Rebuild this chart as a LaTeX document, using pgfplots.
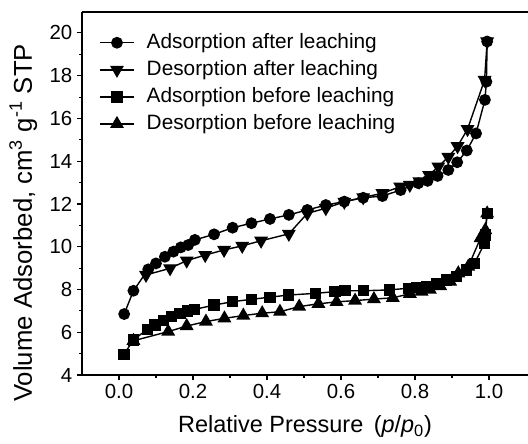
\documentclass[border=0pt]{standalone}
\usepackage{fontspec}
\setmainfont{Liberation Sans}
\usepackage{pgfplots}
\pgfplotsset{compat=1.18}

% N2 isotherms: adsorption / desorption, after and before leaching
\pgfplotstableread{
x y
0.014 6.85
0.039 7.94
0.079 8.94
0.100 9.22
0.124 9.53
0.147 9.77
0.167 9.97
0.187 10.08
0.205 10.32
0.257 10.58
0.307 10.89
0.358 11.10
0.408 11.30
0.459 11.49
0.509 11.72
0.559 11.95
0.609 12.11
0.660 12.29
0.712 12.37
0.761 12.65
0.809 12.97
0.834 13.08
0.861 13.31
0.890 13.59
0.914 13.95
0.940 14.50
0.965 15.30
0.989 16.87
0.993 17.72
0.995 19.60
}\adsafter

\pgfplotstableread{
x y
0.073 8.68
0.138 8.99
0.183 9.35
0.233 9.61
0.284 9.85
0.333 10.04
0.384 10.28
0.459 10.60
0.509 11.56
0.559 11.80
0.609 12.10
0.660 12.31
0.712 12.50
0.760 12.81
0.786 12.89
0.812 13.05
0.838 13.35
0.863 13.75
0.890 14.20
0.915 14.70
0.942 15.50
0.988 17.80
0.995 19.60
}\desafter

\pgfplotstableread{
x y
0.0135 4.97
0.039 5.64
0.077 6.14
0.097 6.34
0.120 6.54
0.142 6.73
0.165 6.89
0.185 6.99
0.205 7.07
0.257 7.27
0.307 7.43
0.358 7.54
0.408 7.64
0.458 7.74
0.532 7.82
0.584 7.90
0.611 7.94
0.660 7.94
0.732 7.98
0.782 8.06
0.805 8.08
0.832 8.15
0.859 8.29
0.886 8.44
0.913 8.60
0.940 8.91
0.960 9.20
0.988 10.16
0.990 10.55
0.995 11.56
}\adsbefore

\pgfplotstableread{
x y
0.039 5.60
0.133 6.03
0.183 6.29
0.235 6.50
0.285 6.65
0.336 6.78
0.387 6.89
0.435 6.96
0.487 7.20
0.539 7.33
0.588 7.42
0.638 7.48
0.689 7.55
0.740 7.61
0.786 7.80
0.818 7.90
0.840 8.00
0.868 8.16
0.895 8.37
0.917 8.76
0.944 9.07
0.977 10.40
0.990 10.78
0.995 11.56
}\desbefore

\begin{document}
\begin{tikzpicture}
\begin{axis}[
  scale only axis,
  width=334.5pt, height=272.25pt,
  xmin=-0.1, xmax=1.1054, ymin=4, ymax=20.98,
  axis x line=box, axis y line=left,
  x axis line style={-}, y axis line style={-},
  axis line style={line width=0.9pt, black},
  xtick pos=left, ytick pos=left,
  tick align=outside,
  major tick length=3.75pt, minor tick length=2.2pt,
  tick style={line width=0.8pt, black},
  xtick={0,0.2,0.4,0.6,0.8,1.0},
  ytick={4,6,8,10,12,14,16,18,20},
  minor x tick num=1, minor y tick num=1,
  xticklabel style={/pgf/number format/.cd, fixed, fixed zerofill, precision=1},
  /pgf/number format/assume math mode=true,
  tick label style={font=\fontsize{15.3}{18}\selectfont},
  xlabel={Relative Pressure \,(\textit{p}/\textit{p}\textsubscript{0})},
  ylabel={Volume Adsorbed, cm\textsuperscript{3} g\textsuperscript{-1} STP},
  xlabel style={font=\fontsize{17.6}{21}\selectfont, at={([yshift=-43.5pt]axis description cs:0.5,0)}, anchor=base},
  ylabel style={font=\fontsize{19.3}{23}\selectfont, at={([xshift=-37.5pt]axis description cs:0,0.419)}, anchor=base},
  legend style={at={(axis description cs:0.029,0.95)}, anchor=north west,
    draw=none, fill=none, font=\fontsize{15.6}{18}\selectfont,
    nodes={inner sep=0pt, text height=11.5pt, text depth=3pt},
    row sep=5.8pt,
    /tikz/every odd column/.append style={column sep=9pt}},
  legend cell align=left,
  legend image code/.code={\draw[mark repeat=2,mark phase=2] plot coordinates {(0cm,0cm) (0.45cm,0cm) (0.9cm,0cm)};},
  every axis plot/.append style={black, line width=1.05pt},
]
\addplot[mark=*, mark size=3.9pt] table {\adsafter};
\addlegendentry{Adsorption after leaching}
\addplot[mark=triangle*, mark size=5pt, mark options={rotate=180}] table {\desafter};
\addlegendentry{Desorption after leaching}
\addplot[mark=square*, mark size=3.7pt] table {\adsbefore};
\addlegendentry{Adsorption before leaching}
\addplot[mark=triangle*, mark size=5pt] table {\desbefore};
\addlegendentry{Desorption before leaching}
\end{axis}
\pgfresetboundingbox
\path[use as bounding box] ([shift={(-61.5pt,-51.75pt)}]current axis.south west) rectangle ([shift={(0pt,9pt)}]current axis.north east);
\end{tikzpicture}
\end{document}
